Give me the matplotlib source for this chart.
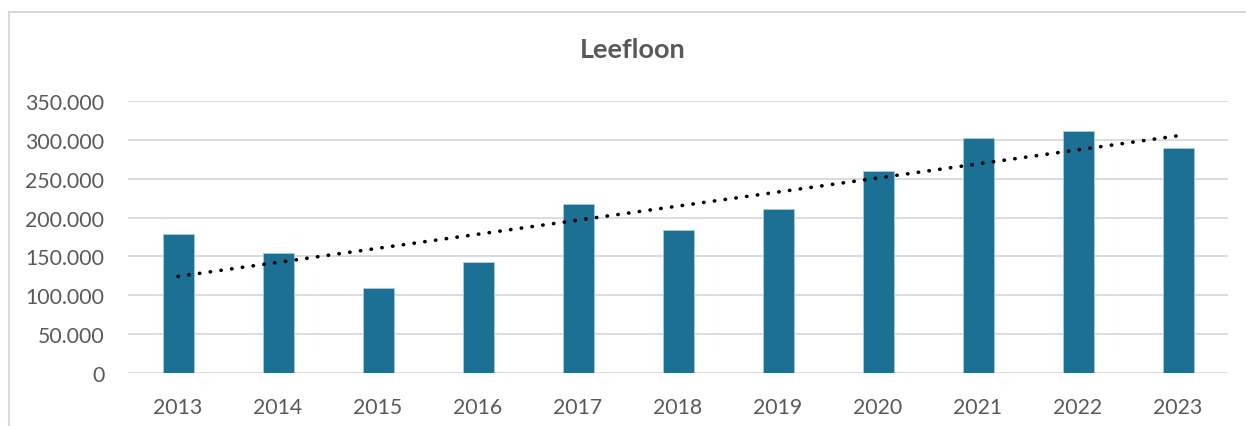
import numpy as np
import matplotlib
matplotlib.use("Agg")
import matplotlib.pyplot as plt
from matplotlib.ticker import FuncFormatter

years = ["2013", "2014", "2015", "2016", "2017", "2018",
         "2019", "2020", "2021", "2022", "2023"]
values = [178500, 155000, 109000, 143300, 218000, 183600,
          211000, 260400, 302900, 311000, 290000]
title = "Leefloon"

BAR = "#1B7094"
GRID = "#D9D9D9"
TXT = "#595959"

plt.rcParams["font.family"] = ["Lato", "DejaVu Sans"]

fig = plt.figure(figsize=(12.46, 4.27), dpi=100)
ax = fig.add_axes([128 / 1246, 1 - 374 / 427, 1100 / 1246, 272 / 427])

x = np.arange(len(years))
ax.bar(x, values, width=0.31, color=BAR, edgecolor="#A9CCDB", linewidth=0.6, zorder=3)

# lineaire trendlijn (zoals Excel)
k, b = np.polyfit(x + 1, values, 1)
ax.plot(x, k * (x + 1) + b, color="black", lw=2.6, ls=(0, (0.1, 2.9)),
        dash_capstyle="round", zorder=4)

ax.set_xlim(-0.5, len(years) - 0.5)
ax.set_ylim(0, 350000)
ax.set_yticks(range(0, 350001, 50000))
ax.yaxis.set_major_formatter(FuncFormatter(
    lambda v, p: "0" if v == 0 else f"{int(v):,}".replace(",", ".")))
ax.set_xticks(x, years)
ax.grid(axis="y", color=GRID, lw=1.3, zorder=0)
for s in ax.spines.values():
    s.set_visible(False)
ax.tick_params(length=0, labelsize=15.3, colors=TXT)
ax.tick_params(axis="y", pad=17)
ax.tick_params(axis="x", pad=17)

fig.text(633 / 1246, 1 - 50 / 427, title, ha="center", va="center",
         fontsize=19.5, fontweight="bold", color=TXT)

# kader rond de grafiek (links en boven)
fig.add_artist(plt.Line2D([9 / 1246, 9 / 1246], [0, 1 - 13 / 427],
                          color=GRID, lw=1.5, transform=fig.transFigure))
fig.add_artist(plt.Line2D([9 / 1246, 1], [1 - 13 / 427, 1 - 13 / 427],
                          color=GRID, lw=1.5, transform=fig.transFigure))

fig.savefig("out.png", dpi=100)
